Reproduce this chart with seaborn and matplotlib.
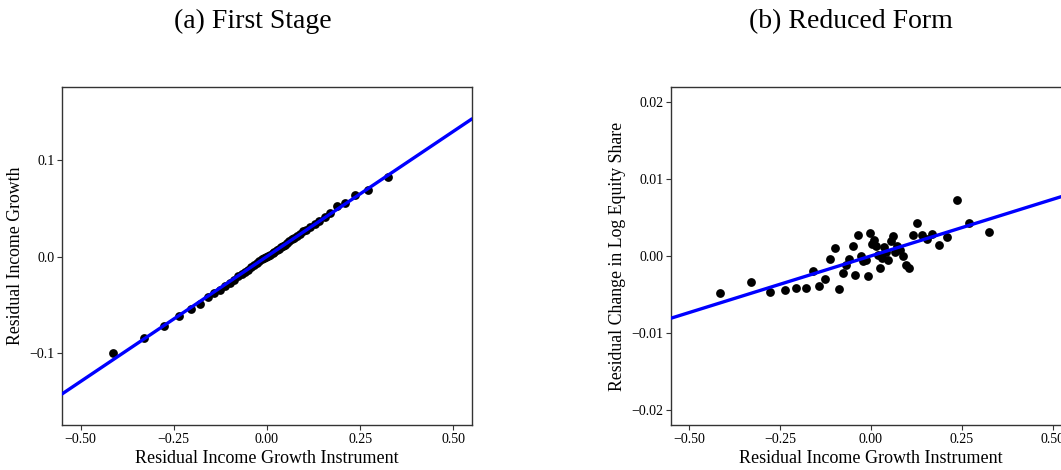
import matplotlib
matplotlib.use("Agg")
import matplotlib.pyplot as plt
import seaborn as sns
import pandas as pd

# Binned residual instrument values (shared x for both panels)
instrument = [-0.414, -0.330, -0.277, -0.237, -0.205, -0.179, -0.159, -0.141, -0.125, -0.112,
              -0.099, -0.088, -0.077, -0.068, -0.060, -0.050, -0.042, -0.035, -0.027, -0.020,
              -0.013, -0.008, -0.002, 0.004, 0.009, 0.015, 0.020, 0.026, 0.031, 0.037,
              0.042, 0.048, 0.055, 0.060, 0.068, 0.073, 0.081, 0.088, 0.097, 0.106,
              0.116, 0.128, 0.141, 0.156, 0.169, 0.188, 0.210, 0.236, 0.271, 0.326]

income_growth = [-0.100, -0.085, -0.072, -0.062, -0.055, -0.049, -0.042, -0.038, -0.035, -0.031,
                 -0.027, -0.024, -0.020, -0.018, -0.016, -0.014, -0.011, -0.009, -0.007, -0.005,
                 -0.003, -0.002, 0.000, 0.001, 0.002, 0.004, 0.005, 0.007, 0.008, 0.010,
                 0.011, 0.012, 0.014, 0.016, 0.018, 0.019, 0.021, 0.023, 0.026, 0.028,
                 0.031, 0.034, 0.037, 0.041, 0.045, 0.052, 0.056, 0.064, 0.069, 0.083]

equity_share = [-0.00482, -0.00343, -0.00465, -0.00448, -0.00417, -0.00417, -0.00196, -0.00396, -0.00304, -0.00035,
                0.00099, -0.00426, -0.00217, -0.00122, -0.00035, 0.00134, -0.00252, 0.00268, 0.00004, -0.00070,
                -0.00048, -0.00256, 0.00299, 0.00151, 0.00203, 0.00125, 0.00008, -0.00152, -0.00022, 0.00117,
                0.00047, -0.00048, 0.00195, 0.00264, 0.00056, 0.00134, 0.00073, 0.00004, -0.00122, -0.00161,
                0.00273, 0.00425, 0.00268, 0.00221, 0.00286, 0.00138, 0.00247, 0.00729, 0.00429, 0.00316]

titles = ["(a) First Stage", "(b) Reduced Form"]
xlabel = "Residual Income Growth Instrument"
ylabels = ["Residual Income Growth", "Residual Change in Log Equity Share"]
xticks = [-0.50, -0.25, 0.00, 0.25, 0.50]
yticks_a = [-0.1, 0.0, 0.1]
yticks_b = [-0.02, -0.01, 0.00, 0.01, 0.02]

df = pd.DataFrame({"z": instrument, "g": income_growth, "e": equity_share})

sns.set_theme(style="ticks")
plt.rcParams["font.family"] = ["Liberation Serif", "DejaVu Serif"]
plt.rcParams["text.color"] = "black"
plt.rcParams["axes.labelcolor"] = "black"
plt.rcParams["axes.edgecolor"] = "#333333"
plt.rcParams["axes.linewidth"] = 1.0
plt.rcParams["xtick.color"] = "#333333"
plt.rcParams["ytick.color"] = "#333333"
plt.rcParams["xtick.labelcolor"] = "black"
plt.rcParams["ytick.labelcolor"] = "black"

fig = plt.figure(figsize=(10.61, 4.70), dpi=100)
ax1 = fig.add_axes([0.0584, 0.0957, 0.3864, 0.7191])
ax2 = fig.add_axes([0.6322, 0.0957, 0.3770, 0.7191])

for ax, ycol, yl, yt, ylim, fmt in [
    (ax1, "g", ylabels[0], yticks_a, (-0.175, 0.176), "{:.1f}"),
    (ax2, "e", ylabels[1], yticks_b, (-0.022, 0.022), "{:.2f}"),
]:
    ax.set_xlim(-0.55, 0.55)
    ax.set_ylim(*ylim)
    sns.regplot(data=df, x="z", y=ycol, ax=ax, ci=None, truncate=False,
                scatter_kws={"color": "black", "s": 40, "alpha": 1, "linewidths": 0, "zorder": 2},
                line_kws={"color": "#0000ff", "lw": 2.4, "zorder": 3})
    ax.set_xlim(-0.55, 0.55)
    ax.set_ylim(*ylim)
    ax.set_xticks(xticks)
    ax.set_xticklabels(["{:.2f}".format(v).replace("-", "\u2212") for v in xticks])
    ax.set_yticks(yt)
    ax.set_yticklabels([fmt.format(v).replace("-", "\u2212") for v in yt])
    ax.tick_params(labelsize=10, length=3.5, width=0.8, pad=2)
    ax.set_xlabel(xlabel, fontsize=13, labelpad=3)
    ax.set_ylabel(yl, fontsize=12.8, labelpad=4)
    for s in ax.spines.values():
        s.set_visible(True)

fig.text(0.2382, 0.955, titles[0], ha="center", va="center", fontsize=20, color="black")
fig.text(0.8016, 0.955, titles[1], ha="center", va="center", fontsize=20, color="black")

fig.savefig("out.png", dpi=100)
